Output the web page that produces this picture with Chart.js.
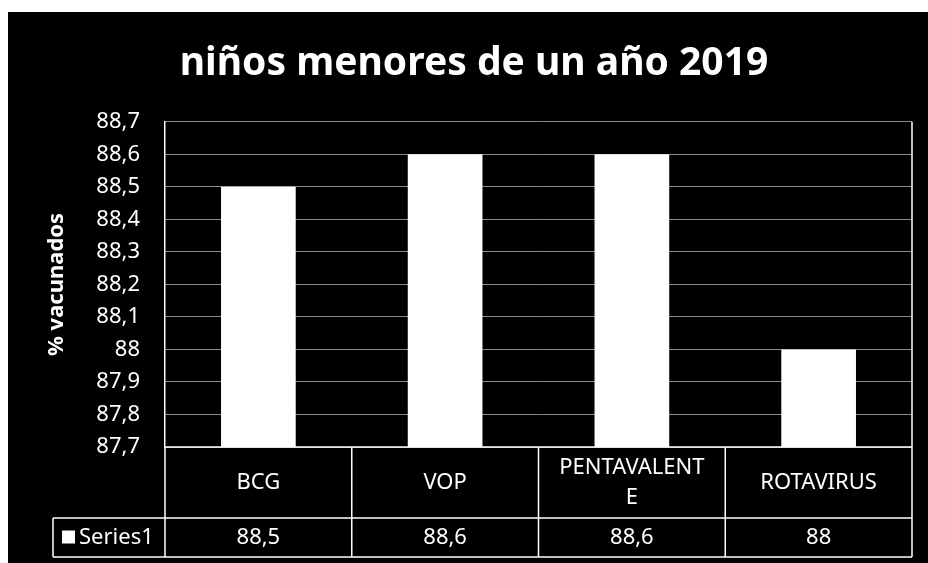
<!DOCTYPE html>
<html lang="es">
<head>
  <meta charset="UTF-8" />
  <title>niños menores de un año 2019</title>
  <script src="https://cdn.jsdelivr.net/npm/chart.js"></script>
  <style>
    html, body { margin: 0; padding: 0; background: #fff; }
    #marco {
      position: absolute; left: 8px; top: 12px;
      width: 920px; height: 551px; background: #000;
    }
  </style>
</head>
<body>
  <div id="marco"><canvas id="graficoVacunas"></canvas></div>

  <script>
    // Datos
    const categorias = ['BCG', 'VOP', ['PENTAVALENT', 'E'], 'ROTAVIRUS'];
    const serieNombre = 'Series1';
    const valores = [88.5, 88.6, 88.6, 88];
    const ejeMin = 87.7;
    const ejeMax = 88.7;
    const ejePaso = 0.1;

    const fuente = "'Noto Sans', 'Open Sans', sans-serif";
    const formato = v => String(Math.round(v * 10) / 10).replace('.', ',');

    // Tabla de datos bajo el eje X (como en Excel)
    const tablaDatos = {
      id: 'tablaDatos',
      afterDraw(chart) {
        const { ctx, chartArea, scales: { x } } = chart;
        const arriba = chartArea.bottom;
        const medio = arriba + 71;
        const abajo = arriba + 110;
        const ancho = x.getPixelForValue(1) - x.getPixelForValue(0);
        const izqLeyenda = 45;

        ctx.save();
        ctx.strokeStyle = '#fff';
        ctx.lineWidth = 1.5;
        ctx.beginPath();
        // líneas horizontales
        ctx.moveTo(chartArea.left, arriba); ctx.lineTo(chartArea.right, arriba);
        ctx.moveTo(izqLeyenda, medio); ctx.lineTo(chartArea.right, medio);
        ctx.moveTo(izqLeyenda, abajo); ctx.lineTo(chartArea.right, abajo);
        ctx.moveTo(izqLeyenda, medio); ctx.lineTo(izqLeyenda, abajo);
        // borde derecho del área de trazado
        ctx.moveTo(chartArea.right, chartArea.top); ctx.lineTo(chartArea.right, abajo);
        // separadores de categorías
        for (let i = 0; i < categorias.length; i++) {
          const xi = x.getPixelForValue(i) - ancho / 2;
          ctx.moveTo(xi, arriba); ctx.lineTo(xi, abajo);
        }
        ctx.stroke();

        ctx.fillStyle = '#fff';
        ctx.font = '22px ' + fuente;
        ctx.textAlign = 'center';
        ctx.textBaseline = 'middle';
        categorias.forEach((c, i) => {
          const cx = x.getPixelForValue(i);
          const lineas = Array.isArray(c) ? c : [c];
          const alto = 30;
          const y0 = (arriba + medio) / 2 - (lineas.length - 1) * alto / 2;
          lineas.forEach((l, j) => ctx.fillText(l, cx, y0 + j * alto));
          ctx.fillText(formato(valores[i]), cx, (medio + abajo) / 2);
        });

        // leyenda en la tabla
        const yFila = (medio + abajo) / 2;
        ctx.fillRect(izqLeyenda + 9, yFila - 7, 13, 13);
        ctx.textAlign = 'left';
        ctx.fillText(serieNombre, izqLeyenda + 26, yFila);
        ctx.restore();
      }
    };

    const ctx = document.getElementById('graficoVacunas').getContext('2d');

    new Chart(ctx, {
      type: 'bar',
      data: {
        labels: categorias,
        datasets: [{
          label: serieNombre,
          data: valores,
          backgroundColor: '#ffffff',
          borderWidth: 0,
          categoryPercentage: 1,
          barPercentage: 0.4
        }]
      },
      options: {
        responsive: true,
        maintainAspectRatio: false,
        animation: false,
        layout: { padding: { top: 0, right: 16, bottom: 116, left: 28 } },
        scales: {
          x: { display: false },
          y: {
            min: ejeMin,
            max: ejeMax,
            afterFit(scale) { scale.width = 129; },
            grid: { color: '#8a8a8a', lineWidth: 1, drawTicks: false },
            border: { display: true, color: '#fff', width: 1.5 },
            ticks: {
              stepSize: ejePaso,
              padding: 25,
              color: '#fff',
              font: { family: fuente, size: 22 },
              callback: v => formato(v)
            },
            title: {
              display: true,
              text: '% vacunados',
              color: '#fff',
              font: { family: fuente, size: 22, weight: 'bold' },
              padding: { top: 8, bottom: 0 }
            }
          }
        },
        plugins: {
          legend: { display: false },
          tooltip: { enabled: false },
          title: {
            display: true,
            text: 'niños menores de un año 2019',
            color: '#fff',
            font: { family: fuente, size: 39, weight: 'bold' },
            padding: { top: 28, bottom: 35 }
          }
        }
      },
      plugins: [tablaDatos]
    });
  </script>
</body>
</html>
